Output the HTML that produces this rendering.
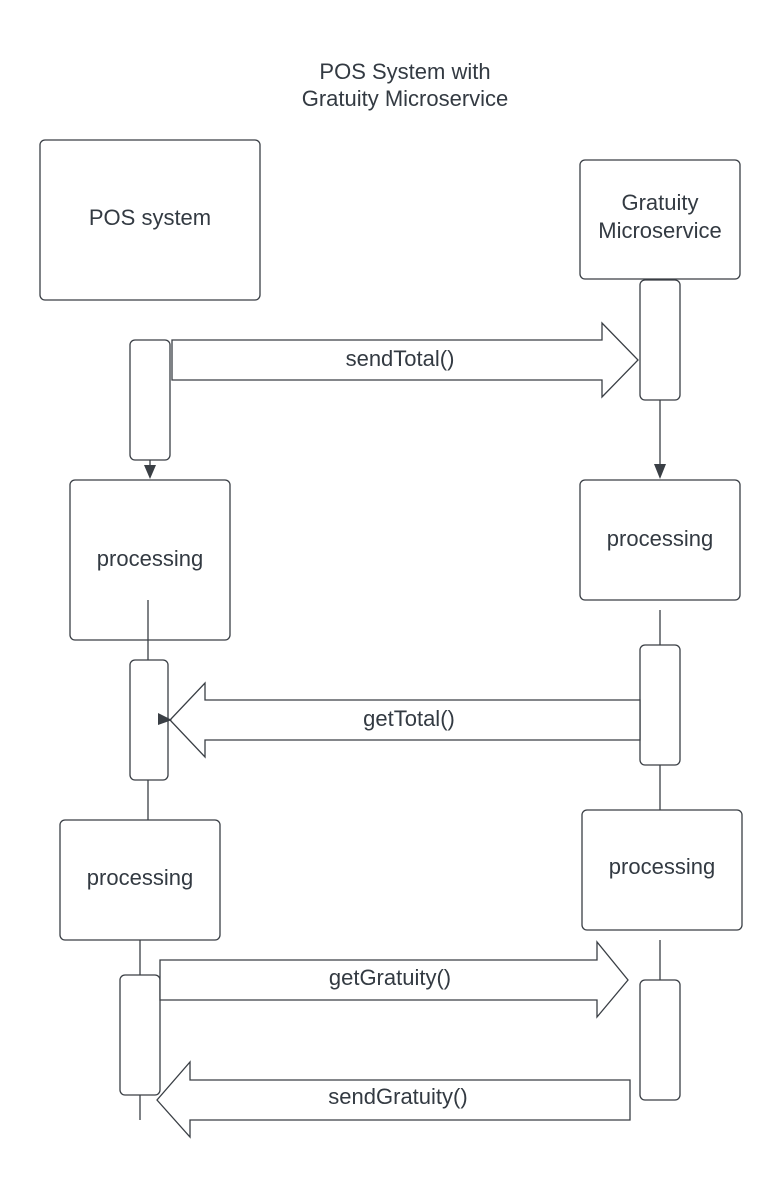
<!DOCTYPE html>
<html><head><meta charset="utf-8"><style>
html,body{margin:0;padding:0;background:#fff;}
svg{display:block;}
text{font-family:"Liberation Sans",sans-serif;fill:#333a42;}
</style></head><body>
<svg width="781" height="1180" viewBox="0 0 781 1180" xmlns="http://www.w3.org/2000/svg">
<g fill="#fff" stroke="#3a3f45" stroke-width="1.3">
<line x1="148" y1="600" x2="148" y2="660"/>
<line x1="148" y1="780" x2="148" y2="820"/>
<line x1="660" y1="610" x2="660" y2="645"/>
<line x1="660" y1="765" x2="660" y2="810"/>
<line x1="140" y1="940" x2="140" y2="975"/>
<line x1="140" y1="1095" x2="140" y2="1120"/>
<line x1="660" y1="940" x2="660" y2="980"/>
<line x1="150" y1="460" x2="150" y2="468"/>
<line x1="660" y1="400" x2="660" y2="466"/>
<rect x="40" y="140" width="220" height="160" rx="5"/>
<rect x="580" y="160" width="160" height="119" rx="5"/>
<rect x="640" y="280" width="40" height="120" rx="5"/>
<rect x="130" y="340" width="40" height="120" rx="5"/>
<rect x="70" y="480" width="160" height="160" rx="5"/>
<rect x="580" y="480" width="160" height="120" rx="5"/>
<rect x="130" y="660" width="38" height="120" rx="5"/>
<rect x="640" y="645" width="40" height="120" rx="5"/>
<rect x="60" y="820" width="160" height="120" rx="5"/>
<rect x="582" y="810" width="160" height="120" rx="5"/>
<rect x="120" y="975" width="40" height="120" rx="5"/>
<rect x="640" y="980" width="40" height="120" rx="5"/>
<line x1="148" y1="600" x2="148" y2="640"/>
<path d="M172 340 H602 L602 323 L638 360 L602 397 L602 380 H172 Z"/>
<path d="M640 700 H205 L205 683 L170 720 L205 757 L205 740 H640 Z"/>
<path d="M160 960 H597 L597 942 L628 980 L597 1017 L597 1000 H160 Z"/>
<path d="M630 1080 H190 L190 1062 L157 1100 L190 1137 L190 1120 H630 Z"/>
</g>
<g fill="#3a3f45">
<polygon points="144,465 156,465 150,479"/>
<polygon points="654,464 666,464 660,479"/>
<polygon points="158,713 158,725 172,720"/>
</g>
<g font-size="22" text-anchor="middle">
<text x="405" y="79">POS System with</text>
<text x="405" y="106">Gratuity Microservice</text>
<text x="150" y="225">POS system</text>
<text x="660" y="210">Gratuity</text>
<text x="660" y="238">Microservice</text>
<text x="400" y="366">sendTotal()</text>
<text x="150" y="566">processing</text>
<text x="660" y="546">processing</text>
<text x="409" y="726">getTotal()</text>
<text x="140" y="885">processing</text>
<text x="662" y="874">processing</text>
<text x="390" y="985">getGratuity()</text>
<text x="398" y="1104">sendGratuity()</text>
</g>
</svg>
</body></html>
